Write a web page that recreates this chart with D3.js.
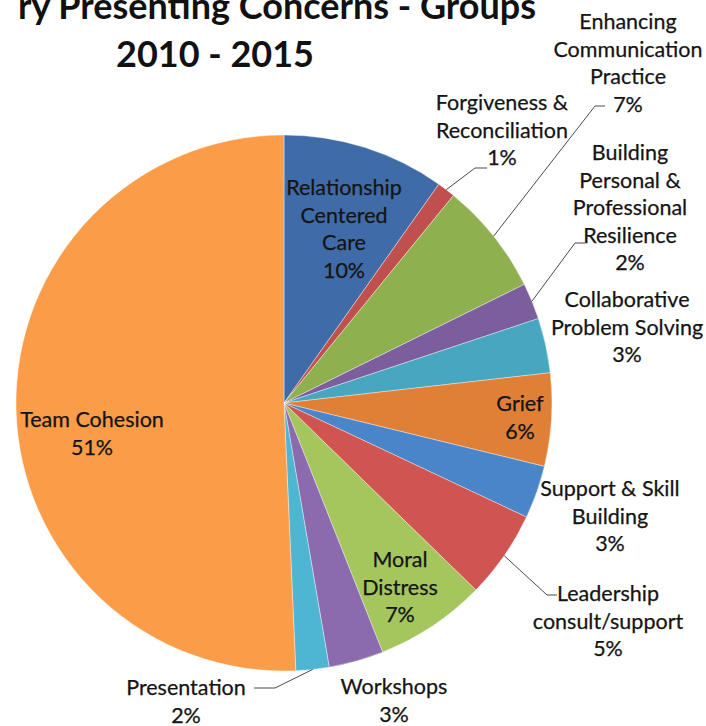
<!DOCTYPE html>
<html>
<head>
<meta charset="utf-8">
<script src="https://cdn.jsdelivr.net/npm/d3@7"></script>
<style>
  body { margin: 0; background: #fff; }
  svg text { font-family: Lato, "Open Sans", sans-serif; }
</style>
</head>
<body>
<div id="chart"></div>
<script>
// data, clockwise from 12 o'clock
const categories = ["Relationship Centered Care", "Forgiveness & Reconciliation",
  "Enhancing Communication Practice", "Building Personal & Professional Resilience",
  "Collaborative Problem Solving", "Grief", "Support & Skill Building",
  "Leadership consult/support", "Moral Distress", "Workshops", "Presentation", "Team Cohesion"];
const values = [9.8, 1.1, 6.8, 2.2, 3.3, 5.6, 3.2, 5.3, 6.7, 3.3, 2.0, 50.7];
const labelLines = [
  ["Relationship", "Centered", "Care"],
  ["Forgiveness &", "Reconciliation"],
  ["Enhancing", "Communication", "Practice"],
  ["Building", "Personal &", "Professional", "Resilience"],
  ["Collaborative", "Problem Solving"],
  ["Grief"],
  ["Support & Skill", "Building"],
  ["Leadership", "consult/support"],
  ["Moral", "Distress"],
  ["Workshops"],
  ["Presentation"],
  ["Team Cohesion"]
];
const titleLines = ["ry Presenting Concerns - Groups", "2010 - 2015"];

const colors = ["#3f6ca8", "#c0504d", "#8fb04e", "#7c5e9e", "#47a7c0", "#e07f36",
  "#4a85c9", "#d05450", "#a4c65d", "#8b6bae", "#4eb6d0", "#fb9c48"];

// layout: label centre x, first baseline y, optional leader elbow [x, y, underline end x]
const labelPos = [
  {x: 344, y: 195},
  {x: 502, y: 110, elbow: [475, 168, 487]},
  {x: 628, y: 29, elbow: [595, 106, 605]},
  {x: 630, y: 160, elbow: [575, 243, 585]},
  {x: 627, y: 307},
  {x: 520, y: 411},
  {x: 610, y: 496},
  {x: 608, y: 601, elbow: [547, 595, 557]},
  {x: 400, y: 567},
  {x: 394, y: 694},
  {x: 186, y: 695, elbow: [275, 688, 254]},
  {x: 92, y: 427}
];

const width = 706, height = 726;
const cx = 284, cy = 403, r = 268;
const lineH = 27.5;

const svg = d3.select("#chart").append("svg")
  .attr("width", width).attr("height", height);

const pie = d3.pie().sort(null).value(d => d)(values);
const arc = d3.arc().innerRadius(0).outerRadius(r);

const g = svg.append("g").attr("transform", `translate(${cx},${cy})`);

g.selectAll("path").data(pie).enter().append("path")
  .attr("d", arc)
  .attr("fill", (d, i) => colors[i])
  .attr("stroke", "#ffffff")
  .attr("stroke-opacity", 0.55)
  .attr("stroke-width", 0.7);

// leader lines
pie.forEach((d, i) => {
  const p = labelPos[i];
  if (!p.elbow) return;
  const a = (d.startAngle + d.endAngle) / 2;
  const sx = cx + Math.sin(a) * r, sy = cy - Math.cos(a) * r;
  svg.append("polyline")
    .attr("points", [[sx, sy], [p.elbow[0], p.elbow[1]], [p.elbow[2], p.elbow[1]]].map(q => q.join(",")).join(" "))
    .attr("fill", "none")
    .attr("stroke", "#4a4a4a")
    .attr("stroke-width", 1);
});

// labels
pie.forEach((d, i) => {
  const p = labelPos[i];
  const lines = labelLines[i].concat([Math.round(values[i]) + "%"]);
  const t = svg.append("text")
    .attr("text-anchor", "middle")
    .attr("font-size", 21.5)
    .attr("fill", "#141414")
    .attr("stroke", "#141414")
    .attr("stroke-width", 0.25);
  lines.forEach((s, k) => {
    t.append("tspan").attr("x", p.x).attr("y", p.y + k * lineH).text(s);
  });
});

// title (cropped at the left edge in the source)
svg.append("text")
  .attr("x", 536).attr("y", 19)
  .attr("text-anchor", "end")
  .attr("font-size", 36).attr("font-weight", "bold")
  .attr("fill", "#111")
  .text(titleLines[0]);
svg.append("text")
  .attr("x", 215).attr("y", 67)
  .attr("text-anchor", "middle")
  .attr("font-size", 36).attr("font-weight", "bold")
  .attr("fill", "#111")
  .text(titleLines[1]);
</script>
</body>
</html>
